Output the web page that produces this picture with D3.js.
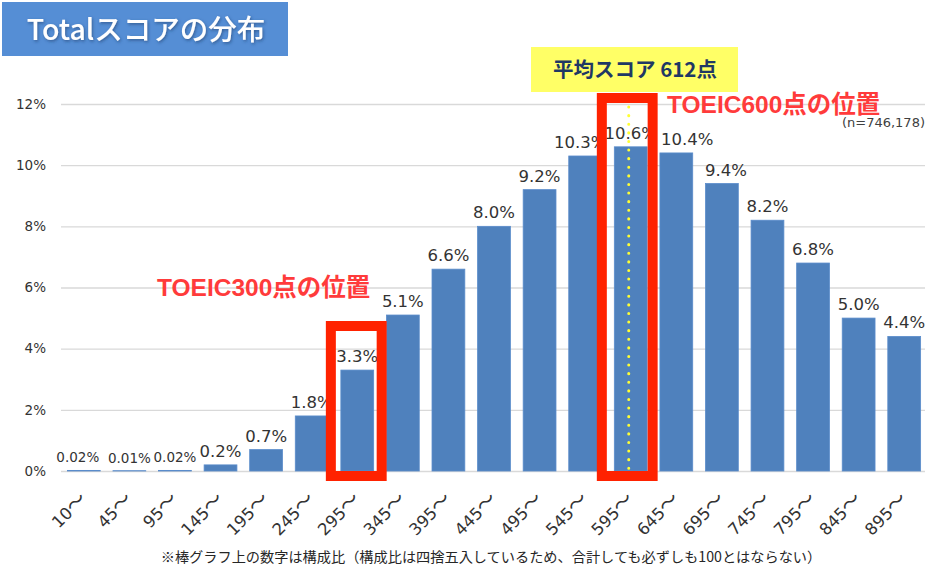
<!DOCTYPE html>
<html>
<head>
<meta charset="utf-8">
<script src="https://cdn.jsdelivr.net/npm/d3@7"></script>
<style>
  html, body { margin: 0; padding: 0; background: #fff; }
  svg { display: block; font-family: "Noto Sans CJK JP", "Noto Sans", sans-serif; }
</style>
</head>
<body>
<div id="chart"></div>
<script>
/* TOEIC Total score distribution - bar chart with two highlighted score bands
   and the mean score marked by a dotted line. */

const categories = ["10〜","45〜","95〜","145〜","195〜","245〜","295〜","345〜","395〜","445〜",
                    "495〜","545〜","595〜","645〜","695〜","745〜","795〜","845〜","895〜"];
const shares     = [0.02, 0.01, 0.02, 0.2, 0.7, 1.8, 3.3, 5.1, 6.6, 8.0,
                    9.2, 10.3, 10.6, 10.4, 9.4, 8.2, 6.8, 5.0, 4.4];
const yTicks     = [0, 2, 4, 6, 8, 10, 12];
const highlights = [
  { cat: "295〜", label: "TOEIC300点の位置" },
  { cat: "595〜", label: "TOEIC600点の位置" }
];
const meanCat    = "595〜";
const title      = "Totalスコアの分布";
const meanLabel  = "平均スコア 612点";
const sampleNote = "(n=746,178)";
const footNote   = "※棒グラフ上の数字は構成比（構成比は四捨五入しているため、合計しても必ずしも100とはならない）";

const W = 940, H = 570;
const plot = { left: 61, right: 927, top: 104, bottom: 471 };
const LATIN = "'DejaVu Sans', 'Noto Sans CJK JP', sans-serif";
const CJK = "'Noto Sans CJK JP', sans-serif";

const svg = d3.select("#chart").append("svg")
    .attr("width", W).attr("height", H);

// drop shadow for the title text
const defs = svg.append("defs");
const sh = defs.append("filter").attr("id", "tshadow")
    .attr("x", "-10%").attr("y", "-30%").attr("width", "120%").attr("height", "160%");
sh.append("feDropShadow").attr("dx", 1).attr("dy", 1.5).attr("stdDeviation", 1.5)
    .attr("flood-color", "#1a3a6a").attr("flood-opacity", 0.6);

const x = d3.scaleBand().domain(categories)
    .range([plot.left, plot.right]).paddingInner(0.28).paddingOuter(0.14);
const y = d3.scaleLinear().domain([0, 12]).range([plot.bottom, plot.top]);

// gridlines + y labels
const yAxis = svg.append("g")
    .attr("transform", `translate(${plot.left},0)`)
    .call(d3.axisLeft(y).tickValues(yTicks).tickSize(-(plot.right - 2 - plot.left))
      .tickFormat(d => d + "%").tickPadding(15));
yAxis.select(".domain").remove();
yAxis.selectAll("line").attr("stroke", "#d9d9d9").attr("stroke-width", 1.3);
yAxis.selectAll("text").attr("font-size", 13.5).attr("fill", "#333")
    .attr("font-family", LATIN);

// bars
svg.append("g").selectAll("rect").data(categories).join("rect")
    .attr("x", d => x(d))
    .attr("y", (d, i) => y(shares[i]))
    .attr("width", x.bandwidth())
    .attr("height", (d, i) => plot.bottom - y(shares[i]))
    .attr("fill", "#4f81bd")
    .attr("stroke", "#5a8ccb").attr("stroke-width", 0.8);

// value labels above bars; a few were nudged sideways in the original
const nudge = { "10〜": -6, "545〜": -5, "645〜": 11, "695〜": 4 };
const fmt = v => (v < 0.1 ? v.toFixed(2) : v.toFixed(1)) + "%";
svg.append("g").selectAll("text").data(categories).join("text")
    .attr("x", d => x(d) + x.bandwidth() / 2 + (nudge[d] || 0))
    .attr("y", (d, i) => y(shares[i]) - 8)
    .attr("text-anchor", "middle")
    .attr("font-size", (d, i) => shares[i] < 0.1 ? 13.5 : 16.5)
    .attr("fill", "#333")
    .attr("font-family", LATIN)
    .text((d, i) => fmt(shares[i]));

// x labels, rotated; the wave dash comes from the CJK font, set a bit larger
const xl = svg.append("g").selectAll("text").data(categories).join("text")
    .attr("transform", d => `translate(${x(d) + x.bandwidth() / 2 + 4},${plot.bottom + 29}) rotate(-45)`)
    .attr("text-anchor", "end")
    .attr("font-size", 16.5).attr("fill", "#333")
    .attr("font-family", LATIN);
xl.append("tspan").text(d => d.slice(0, -1));
xl.append("tspan").attr("font-family", CJK).attr("font-size", 20).text(d => d.slice(-1));

// mean score: dotted yellow line
const mx = x(meanCat) + x.bandwidth() / 2 - 2;
svg.append("line")
    .attr("x1", mx).attr("x2", mx)
    .attr("y1", plot.top + 3).attr("y2", plot.bottom - 1)
    .attr("stroke", "#ffff33").attr("stroke-width", 3)
    .attr("stroke-dasharray", "0.1,8.5").attr("stroke-linecap", "round");

// red highlight boxes
const boxPad = { "295〜": [10, 8, 326], "595〜": [12.5, 5.5, 98] }; // left pad, right pad, top
highlights.forEach(h => {
  const [pl, pr, top] = boxPad[h.cat];
  svg.append("rect")
      .attr("x", x(h.cat) - pl).attr("y", top)
      .attr("width", x.bandwidth() + pl + pr).attr("height", 476 - top)
      .attr("fill", "none").attr("stroke", "#ff2200").attr("stroke-width", 10);
});

// red captions
const capPos = [[157, 296], [667, 113]];
highlights.forEach((h, i) => {
  svg.append("text")
      .attr("x", capPos[i][0]).attr("y", capPos[i][1])
      .attr("font-size", 24.5).attr("font-weight", 700).attr("fill", "#ff3b3b")
      .attr("font-family", "'Liberation Sans', 'Noto Sans CJK JP', sans-serif")
      .text(h.label);
});

// sample size
svg.append("text").attr("x", 925).attr("y", 127).attr("text-anchor", "end")
    .attr("font-size", 13).attr("fill", "#404040")
    .attr("font-family", LATIN)
    .text(sampleNote);

// mean score box
svg.append("rect").attr("x", 531).attr("y", 47).attr("width", 207).attr("height", 45)
    .attr("fill", "#ffff66");
svg.append("text").attr("x", 635).attr("y", 77).attr("text-anchor", "middle")
    .attr("font-size", 20.5).attr("font-weight", 700).attr("fill", "#1f3864")
    .text(meanLabel);

// title box
svg.append("rect").attr("x", 2).attr("y", 2).attr("width", 286).attr("height", 54)
    .attr("fill", "#558ed5");
svg.append("text").attr("x", 146).attr("y", 40).attr("text-anchor", "middle")
    .attr("font-size", 28.5).attr("font-weight", 500).attr("fill", "#fff")
    .attr("filter", "url(#tshadow)")
    .text(title);

// footnote
svg.append("text").attr("x", 491).attr("y", 562).attr("text-anchor", "middle")
    .attr("font-size", 14.2).attr("fill", "#262626")
    .text(footNote);
</script>
</body>
</html>
